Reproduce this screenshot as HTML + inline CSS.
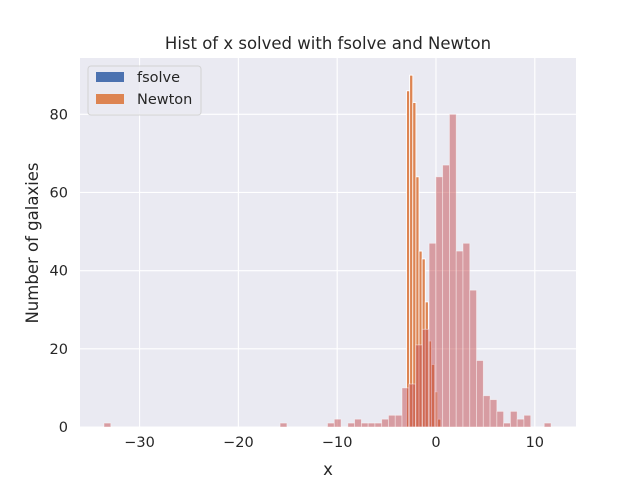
<!DOCTYPE html>
<html><head><meta charset="utf-8"><style>
body{margin:0;background:#fff;font-family:"Liberation Sans","DejaVu Sans",sans-serif;}
svg text{font-family:"DejaVu Sans","Liberation Sans",sans-serif;fill:#262626;}
</style></head><body>
<svg id="chart" width="640" height="480" xmlns="http://www.w3.org/2000/svg">
<rect x="80" y="58" width="496" height="369" fill="#eaeaf2"/>
<g id="grid"></g>
<g id="bars"></g>
<g id="ticks"></g>
<text x="328" y="49" font-size="16.5" text-anchor="middle">Hist of x solved with fsolve and Newton</text>
<text x="328" y="475" font-size="16.5" text-anchor="middle">x</text>
<text x="38" y="243" font-size="16.5" text-anchor="middle" transform="rotate(-90 38 243)">Number of galaxies</text>
<g>
<rect x="88" y="66" width="113" height="49" rx="3" fill="#eaeaf2" stroke="#cccccc" stroke-width="1" opacity="0.8"/>
<rect x="96" y="72" width="28" height="10" fill="#4c72b0"/>
<text x="137" y="82" font-size="14.5">fsolve</text>
<rect x="96" y="94" width="28" height="10" fill="#dd8452"/>
<text x="137" y="104" font-size="14.5">Newton</text>
</g>
</svg>
<script>
const xTicks=[-30,-20,-10,0,10];
const yTicks=[0,20,40,60,80];
const redStart=-33.6, redWidth=0.6855;
const redCounts=[1,0,0,0,0,0,0,0,0,0,0,0,0,0,0,0,0,0,0,0,0,0,0,0,0,0,1,0,0,0,0,0,0,1,2,0,1,2,1,1,1,2,3,3,10,11,21,25,47,64,67,80,45,47,35,17,8,7,4,1,4,2,3,0,0,1];
const newtonStart=-2.98, newtonWidth=0.315;
const newtonCounts=[86,90,83,64,45,43,32,22,16,9,2];
const fsolveCounts=[86,90,83,64,45,43,32,22,16,9,2];
const X0=80,X1=576,Y0=427,Y1=58,xmin=-36.03,xmax=14.17,ymin=0,ymax=94.4;
const sx=v=>X0+(v-xmin)/(xmax-xmin)*(X1-X0);
const sy=v=>Y0-(v-ymin)/(ymax-ymin)*(Y0-Y1);
const NS="http://www.w3.org/2000/svg";
const grid=document.getElementById('grid'),bars=document.getElementById('bars'),ticks=document.getElementById('ticks');
function mk(tag,attrs,parent){const e=document.createElementNS(NS,tag);for(const k in attrs)e.setAttribute(k,attrs[k]);parent.appendChild(e);return e;}
xTicks.forEach(t=>{
 const l=mk('line',{x1:sx(t),x2:sx(t),y1:Y1,y2:Y0,stroke:'#fff','stroke-width':1.1},grid);
 
 
 const tx=mk('text',{x:sx(t),y:Y0+20,'font-size':14.5,'text-anchor':'middle'},ticks);
 tx.textContent=(t<0?'\u2212'+(-t):t);
 
 
});
yTicks.forEach(t=>{
 const l=mk('line',{x1:X0,x2:X1,y1:sy(t),y2:sy(t),stroke:'#fff','stroke-width':1.1},grid);
 
 
 const tx=mk('text',{x:X0-12,y:sy(t)+5,'font-size':14.5,'text-anchor':'end'},ticks);
 tx.textContent=t;
 
 
});
function drawHist(counts,start,w,fill,name,stroke){
 counts.forEach((c,i)=>{
  if(c<=0)return;
  const a=sx(start+i*w),b=sx(start+(i+1)*w);
  const r=mk('rect',{x:a,y:sy(c),width:b-a,height:sy(0)-sy(c),fill:fill,stroke:stroke,'stroke-width':0.8},bars);
  
  
 });
}
drawHist(fsolveCounts,newtonStart,newtonWidth,'#4c72b0','bar-fsolve','#fff');
drawHist(newtonCounts,newtonStart,newtonWidth,'#dd8452','bar-newton','#fff');
drawHist(redCounts,redStart,redWidth,'rgba(196,78,82,0.5)','bar-distribution','rgba(255,255,255,0.5)');
</script>
</body></html>
